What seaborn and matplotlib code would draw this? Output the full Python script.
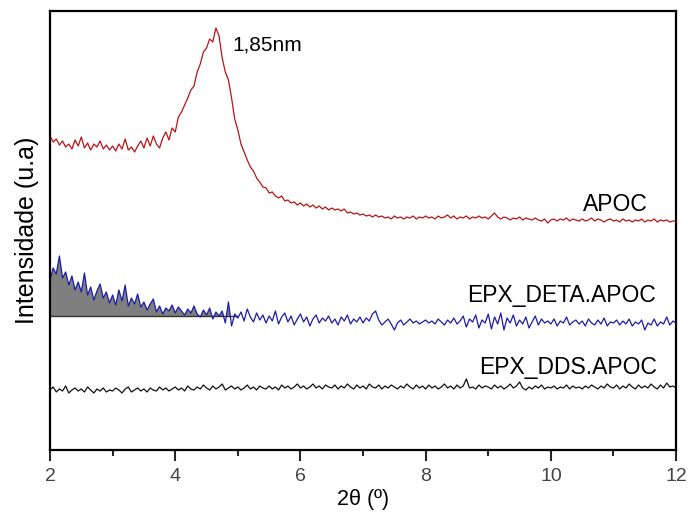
import numpy as np
import pandas as pd
import seaborn as sns
import matplotlib.pyplot as plt

# 2theta sampling grid (degrees), one value every 0.05
two_theta = np.round(np.arange(2.0, 12.0001, 0.05), 2)

# intensities (arbitrary units, already offset per curve)
apoc = [
    314, 308, 311, 305, 309, 303, 306, 301, 310, 304,
    313, 302, 307, 300, 306, 303, 309, 301, 305, 300,
    304, 299, 306, 301, 311, 300, 303, 298, 304, 309,
    302, 312, 304, 314, 306, 302, 312, 318, 310, 322,
    318, 333, 338, 345, 352, 360, 364, 378, 386, 398,
    402, 411, 408, 422, 414, 392, 378, 370, 352, 331,
    320, 306, 298, 290, 283, 279, 272, 268, 263, 262,
    257, 258, 254, 252, 254, 249, 250, 247, 248, 245,
    247, 244, 246, 243, 245, 242, 244, 241, 243, 240,
    242, 240, 241, 239, 241, 237, 238, 236, 237, 235,
    236, 234, 235, 233, 235, 233, 234, 232, 233, 231,
    234, 232, 233, 231, 233, 232, 234, 231, 233, 232,
    234, 232, 233, 231, 234, 232, 233, 235, 232, 234,
    231, 233, 232, 234, 231, 233, 232, 234, 232, 233,
    231, 234, 237, 233, 231, 233, 232, 230, 232, 231,
    233, 230, 232, 231, 230, 232, 230, 229, 231, 227,
    230, 231, 229, 231, 230, 232, 229, 231, 230, 229,
    231, 229, 230, 232, 229, 231, 230, 228, 230, 231,
    229, 230, 228, 231, 229, 230, 228, 230, 229, 231,
    228, 230, 229, 231, 228, 230, 229, 230, 228, 229,
    229,
]

epx_deta = [
    170, 182, 176, 194, 172, 178, 165, 174, 160, 168,
    158, 177, 155, 163, 150, 159, 166, 152, 158, 147,
    155, 145, 160, 149, 165, 144, 152, 146, 156, 143,
    148, 140, 146, 151, 138, 144, 136, 142, 139, 145,
    137, 143, 139, 135, 141, 137, 144, 136, 133, 140,
    135, 142, 131, 138, 134, 139, 127, 148, 124, 136,
    132, 138, 129, 141, 133, 128, 137, 130, 135, 127,
    134, 129, 139, 126, 133, 137, 128, 134, 125, 131,
    136, 128, 133, 124, 131, 135, 127, 132, 129, 134,
    127, 131, 125, 133, 129, 135, 126, 131, 128, 133,
    127, 132, 129, 136, 139, 130, 125, 128, 131, 126,
    120, 127, 130, 125, 128, 131, 127, 129, 126, 128,
    130, 127, 129, 126, 131, 128, 125, 130, 127, 132,
    126, 129, 134, 123, 131, 128, 135, 122, 130, 127,
    136, 121, 133, 126, 137, 120, 132, 127, 135, 124,
    130, 126, 133, 122, 128, 134, 125, 131, 127, 129,
    126, 131, 124, 129, 127, 133, 125, 128, 130, 126,
    129, 124, 131, 127, 125, 130, 126, 132, 124, 128,
    127, 130, 125, 129, 126, 131, 124, 128, 126, 130,
    120, 127, 125, 131, 124, 128, 126, 133, 125, 129,
    127,
]

epx_dds = [
    60, 63, 58, 61, 59, 64, 57, 60, 62, 59,
    61, 58, 63, 60, 57, 61, 59, 62, 58, 60,
    59, 62, 60, 57, 61, 63, 58, 60, 62, 59,
    61, 58, 62, 60, 59, 63, 60, 62, 59, 61,
    63, 60, 62, 59, 64, 61, 60, 63, 61, 65,
    62, 60, 64, 61, 63, 66, 60, 62, 64, 61,
    63, 60, 62, 65, 61, 63, 60, 64, 62, 61,
    64, 61, 63, 60, 65, 62, 64, 61, 63, 66,
    62, 64, 61, 63, 66, 62, 64, 61, 65, 63,
    62, 65, 61, 64, 62, 66, 63, 61, 65, 62,
    64, 61, 66, 63, 62, 65, 61, 64, 62, 65,
    63, 61, 64, 62, 66, 63, 61, 65, 62, 64,
    61, 65, 62, 64, 61, 63, 66, 62, 64, 61,
    65, 62, 64, 71, 62, 63, 61, 65, 62, 64,
    63, 61, 65, 62, 64, 61, 63, 66, 62, 64,
    68, 62, 60, 63, 61, 64, 62, 65, 61, 63,
    62, 64, 61, 63, 62, 65, 61, 64, 62, 63,
    61, 64, 62, 65, 63, 61, 64, 62, 66, 63,
    62, 65, 61, 64, 62, 66, 63, 61, 65, 62,
    64, 62, 66, 63, 61, 65, 62, 67, 63, 64,
    62,
]

# shaded area under the EPX_DETA curve
deta_base = 134
deta_fill_end = 5.0

series_names = ['APOC', 'EPX_DETA.APOC', 'EPX_DDS.APOC']
series_colors = ['#b81414', '#1c1ca8', '#111111']
# where each curve name sits (right end x, baseline y)
label_pos = [(11.54, 239), (11.68, 148), (11.70, 76)]
peak_label = '1,85nm'
peak_pos = (4.92, 405)

df = pd.DataFrame({'two_theta': two_theta, 'APOC': apoc,
                   'EPX_DETA.APOC': epx_deta, 'EPX_DDS.APOC': epx_dds})

sns.set_style('ticks')
plt.rcParams['font.family'] = ['Liberation Sans', 'DejaVu Sans']
plt.rcParams['text.color'] = 'black'
plt.rcParams['axes.labelcolor'] = 'black'

fig = plt.figure(figsize=(6.88, 5.12), dpi=100)
ax = fig.add_axes([0.0727, 0.1211, 0.91, 0.8574])

mask = (df['EPX_DETA.APOC'] > deta_base) & (df['two_theta'] <= deta_fill_end)
ax.fill_between(df['two_theta'], deta_base, df['EPX_DETA.APOC'], where=mask,
                interpolate=True, color='#7f7f7f', lw=0, zorder=1)
base_x = df['two_theta'][df['two_theta'] <= deta_fill_end]
ax.plot(base_x, [deta_base] * len(base_x), color='#333333', lw=1, zorder=1.5)

for name, c in zip(series_names, series_colors):
    sns.lineplot(data=df, x='two_theta', y=name, ax=ax, color=c, lw=0.9,
                 zorder=2)

# curve labels
for name, (lx, ly) in zip(series_names, label_pos):
    ax.text(lx, ly, name, fontsize=16.5, ha='right', va='baseline')
ax.text(peak_pos[0], peak_pos[1], peak_label, fontsize=15, ha='left',
        va='center')

ax.set_xlim(2, 12)
ax.set_ylim(0, 439)
ax.set_xticks([2, 4, 6, 8, 10, 12])
ax.set_xticks([3, 5, 7, 9, 11], minor=True)
ax.set_yticks([])
ax.tick_params(axis='x', which='major', length=8, width=1.5, labelsize=14,
               labelcolor='#444444', pad=5)
ax.tick_params(axis='x', which='minor', length=4, width=1.5)
for s in ax.spines.values():
    s.set_linewidth(1.6)
    s.set_color('black')

ax.set_xlabel('2θ (º)', fontsize=15.5, labelpad=3)
ax.set_ylabel('Intensidade (u.a)', fontsize=18, labelpad=8)

plt.savefig('out.png', dpi=100)
